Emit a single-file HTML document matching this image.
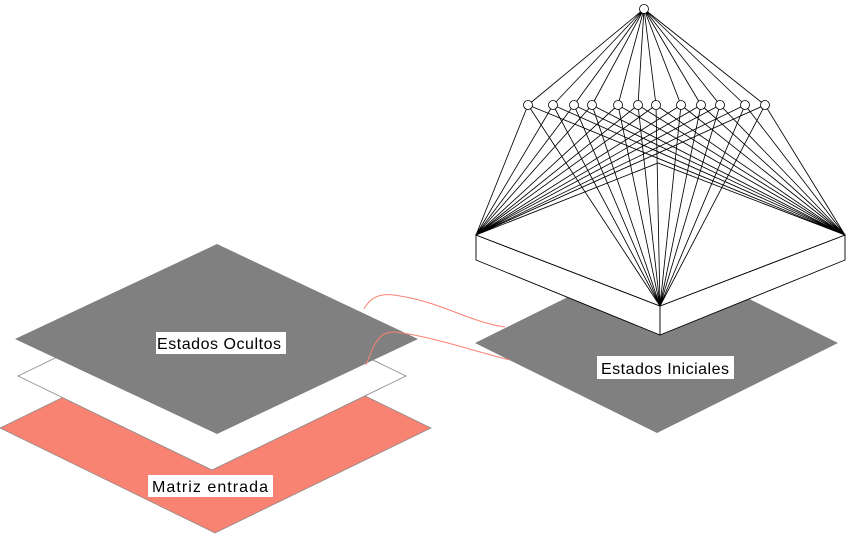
<!DOCTYPE html>
<html><head><meta charset="utf-8"><style>
html,body{margin:0;padding:0;background:#fff;}
svg{display:block;}
text{font-family:"Liberation Sans","DejaVu Sans",sans-serif;font-size:16px;fill:#000;}
</style></head><body>
<svg width="864" height="540" viewBox="0 0 864 540" xmlns="http://www.w3.org/2000/svg">
<polygon points="215,323 431,428 215,533 0,428" fill="#f88373" stroke="#888" stroke-width="0.7"/>
<polygon points="212,282 406,376 212,470 18,376" fill="#fff" stroke="#888" stroke-width="0.8"/>
<polygon points="217,244 418,339 217,434 15,339" fill="#808080"/>
<polygon points="657,253 838,343 657,433 475,343" fill="#808080"/>
<path d="M364,309 C372,294 385,293 400,296 C440,302 470,322 505,327" fill="none" stroke="#f88373" stroke-width="1"/>
<path d="M366,365 C374,345 378,331 395,332 C430,336 470,350 510,360" fill="none" stroke="#f88373" stroke-width="1"/>
<rect x="156" y="332" width="130" height="22" fill="#fff"/>
<text x="157" y="349" textLength="124">Estados Ocultos</text>
<rect x="148" y="475" width="125" height="22" fill="#fff"/>
<text x="152" y="492" textLength="116">Matriz entrada</text>
<rect x="597" y="356" width="137" height="23" fill="#fff"/>
<text x="601" y="374" textLength="128">Estados Iniciales</text>
<g stroke="#000" stroke-width="0.9" fill="#fff">
<polygon points="476,235 660,306 660,335 476,260"/>
<polygon points="845,235 660,306 660,335 845,260"/>
<polygon points="476,235 658,163 845,235 660,306"/>
</g>
<g stroke="#000" stroke-width="0.85" fill="none">
<path d="
M644,9L528,105 M644,9L553,105 M644,9L574,105 M644,9L592,105 M644,9L618,105 M644,9L638,105 M644,9L656,105 M644,9L681,105 M644,9L701,105 M644,9L720,105 M644,9L745,105 M644,9L765,105
M528,105L476,235 M528,105L845,235 M528,105L660,306
M553,105L476,235 M553,105L845,235 M553,105L660,306
M574,105L476,235 M574,105L845,235 M574,105L660,306
M592,105L476,235 M592,105L845,235 M592,105L660,306
M618,105L476,235 M618,105L845,235 M618,105L660,306
M638,105L476,235 M638,105L845,235 M638,105L660,306
M656,105L476,235 M656,105L845,235 M656,105L660,306
M681,105L476,235 M681,105L845,235 M681,105L660,306
M701,105L476,235 M701,105L845,235 M701,105L660,306
M720,105L476,235 M720,105L845,235 M720,105L660,306
M745,105L476,235 M745,105L845,235 M745,105L660,306
M765,105L476,235 M765,105L845,235 M765,105L660,306"/>
</g>
<g stroke="#000" stroke-width="0.8" fill="#fff">
<circle cx="644" cy="9" r="4.5"/>
<circle cx="528" cy="105" r="4.5"/><circle cx="553" cy="105" r="4.5"/><circle cx="574" cy="105" r="4.5"/><circle cx="592" cy="105" r="4.5"/>
<circle cx="618" cy="105" r="4.5"/><circle cx="638" cy="105" r="4.5"/><circle cx="656" cy="105" r="4.5"/><circle cx="681" cy="105" r="4.5"/>
<circle cx="701" cy="105" r="4.5"/><circle cx="720" cy="105" r="4.5"/><circle cx="745" cy="105" r="4.5"/><circle cx="765" cy="105" r="4.5"/>
</g>
</svg>
</body></html>
